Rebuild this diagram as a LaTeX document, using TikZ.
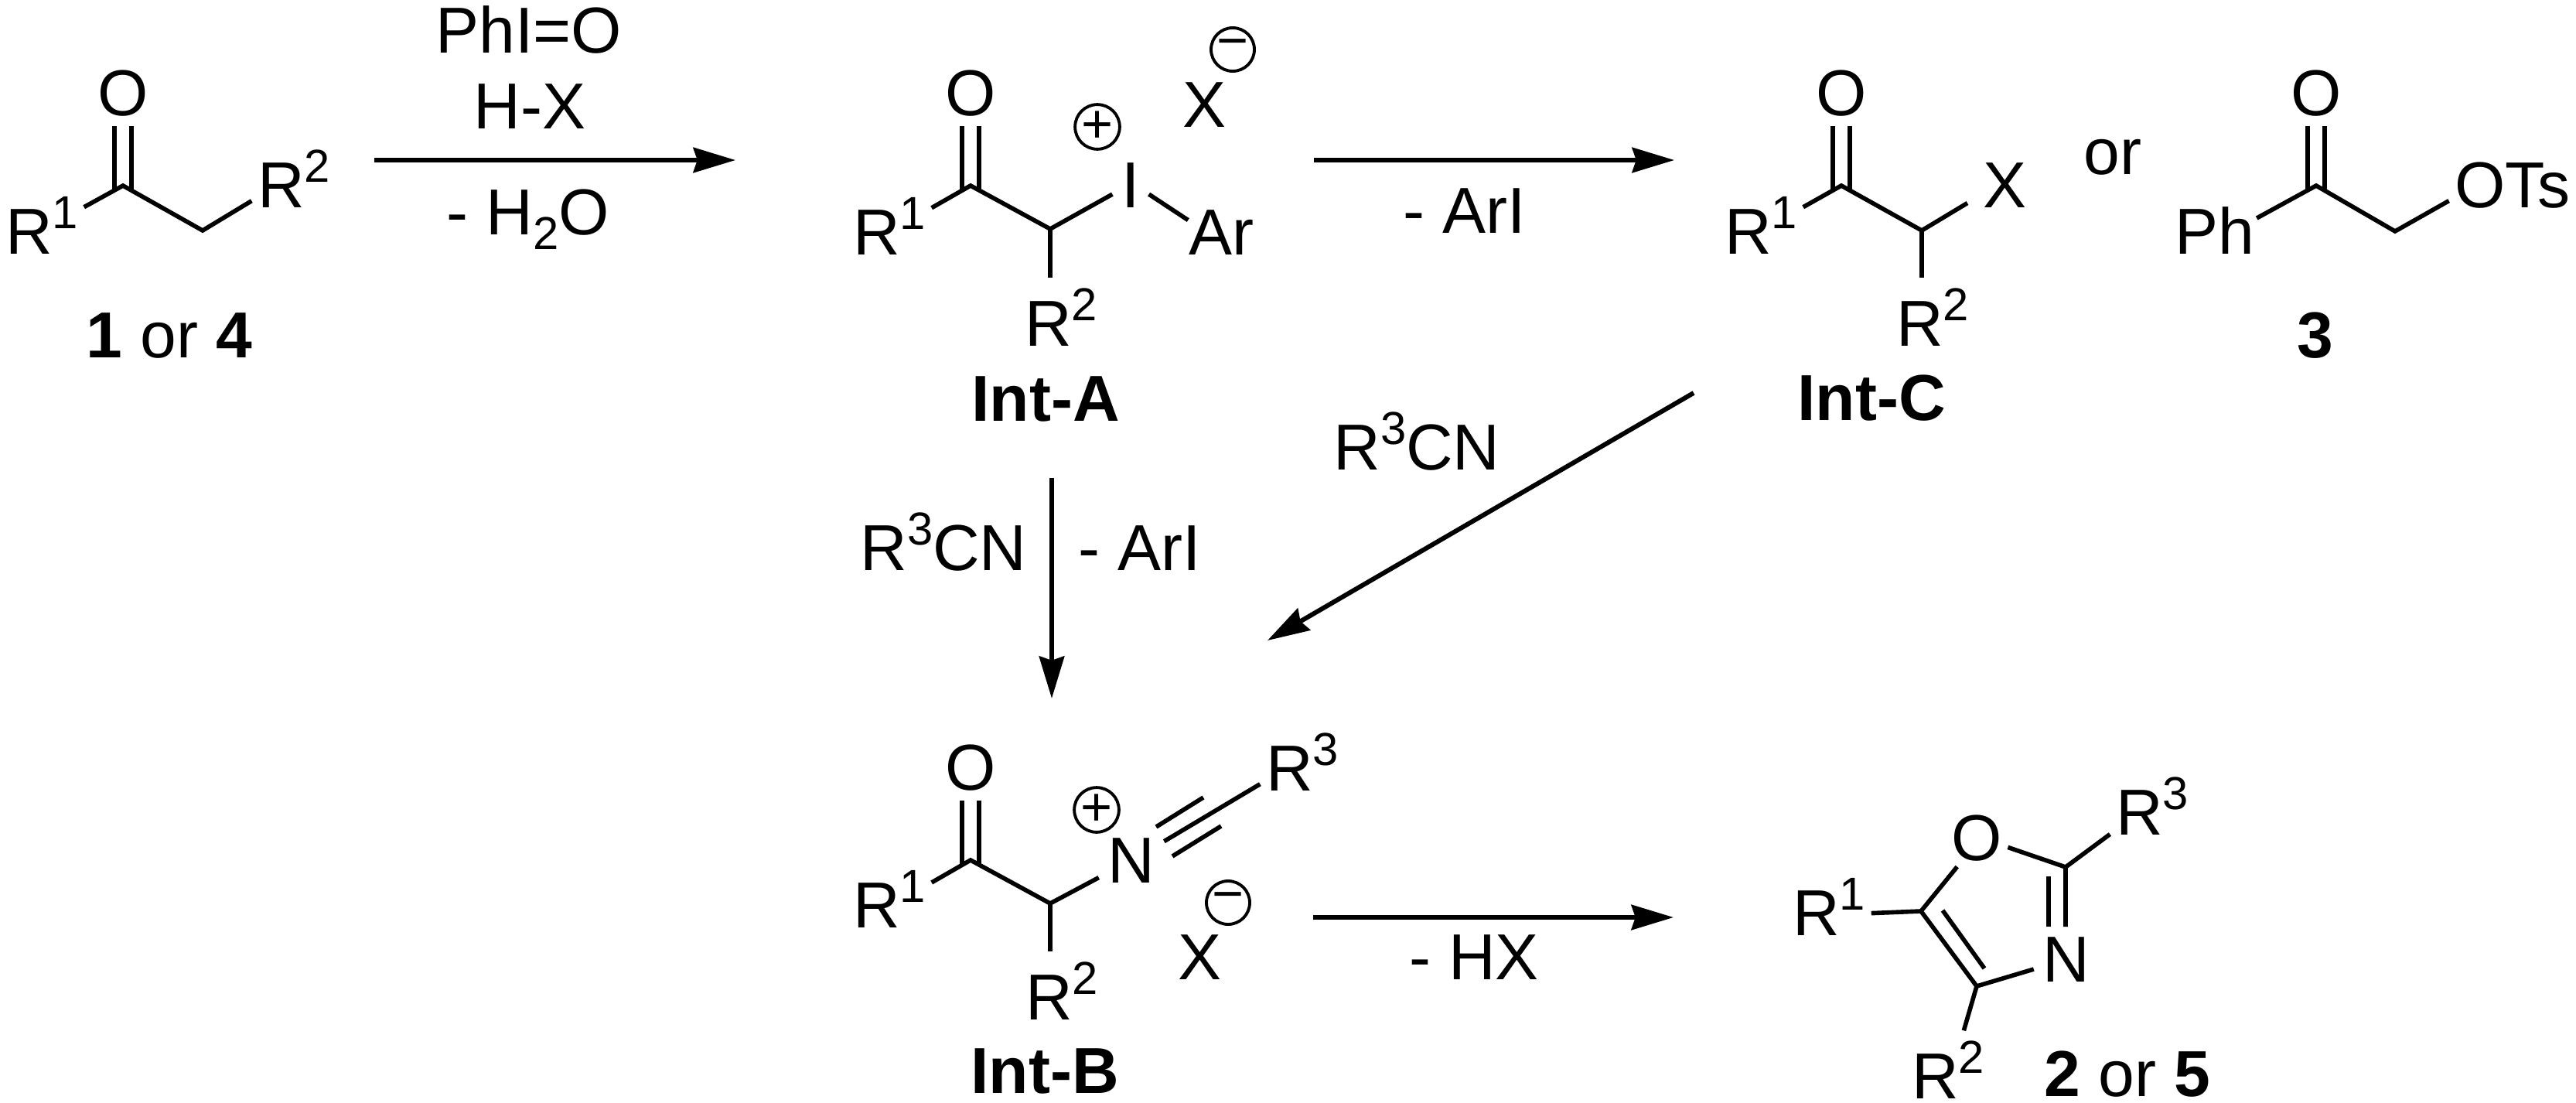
\documentclass[tikz,border=0pt]{standalone}
\usepackage{fontspec}
\setmainfont{Liberation Sans}
\usetikzlibrary{arrows.meta,positioning,calc}
\newcommand{\supn}[1]{\raisebox{.33cm}{\fontsize{17}{20}\selectfont #1}}
\newcommand{\subn}[1]{\raisebox{-.19cm}{\fontsize{17}{20}\selectfont #1}}

\begin{document}
\begin{tikzpicture}
[atom/.style={anchor=base,font=\fontsize{23.9}{28}\selectfont,inner xsep=2pt,inner ysep=3.5pt},
cmpd/.style={atom,font=\fontsize{23.9}{28}\selectfont\bfseries},
chg/.style={shape=circle,draw=black,line width=1.1pt,inner sep=0pt,minimum size=.56cm,font=\fontsize{20}{24}\selectfont},
bond/.style={line width=1.6pt,line join=miter},
rxn/.style={line width=1.7pt,-{Stealth[length=15.5pt,width=9.2pt,inset=1.5pt]}}]
\useasboundingbox (0,0) rectangle (33.31,-14.26);
%% ketone
\node (o1) [atom] at (1.59,-1.49) {O};
\node (r11) [atom] at (.54,-3.28) {R\supn{1}};
\node (r21) [atom] at (3.80,-2.68) {R\supn{2}};
\coordinate (c1) at (1.59,-2.40);
\coordinate (c2) at (2.62,-2.98);
\draw[bond] (r11.23) -- (c1) -- (c2) -- (r21.208);
\draw[bond] ([shift={(-.11,-.05)}]c1) -- ([xshift=-.11cm]o1.south);
\draw[bond] ([shift={(.11,-.05)}]c1) -- ([xshift=.11cm]o1.south);
\node (n14) [atom] at (2.19,-4.62) {{\bfseries 1} or {\bfseries 4}};
%% first arrow
\node (phio) [atom] at (6.84,-.69) {PhI=O};
\node (hx) [atom] at (6.85,-1.66) {H-X};
\node (wat) [atom] at (6.83,-3.03) {- H\subn{2}O};
\coordinate (s1) at (4.84,-2.07);
\coordinate (e1) at (9.51,-2.07);
\draw[rxn] (s1) -- (e1);
%% Int-A
\node (oa) [atom] at (12.55,-1.49) {O};
\node (r1a) [atom] at (11.50,-3.29) {R\supn{1}};
\node (r2a) [atom] at (13.72,-4.47) {R\supn{2}};
\node (ia) [atom,inner xsep=3.2pt] at (14.62,-2.68) {I};
\node (ara) [atom,inner xsep=0pt] at (15.79,-3.29) {Ar};
\node (xa) [atom] at (15.57,-1.64) {X};
\node (pa) [chg] at (14.19,-1.64) {+};
\node (ma) [chg] at (15.94,-.64) {−};
\coordinate (ca1) at (12.55,-2.40);
\coordinate (ca2) at (13.58,-2.96);
\draw[bond] (r1a.23) -- (ca1) -- (ca2) -- (ia.207);
\draw[bond] (ca2) -- (ca2 |- r2a.north);
\draw[bond] (ia.-27) -- (ara.160);
\draw[bond] ([shift={(-.11,-.05)}]ca1) -- ([xshift=-.11cm]oa.south);
\draw[bond] ([shift={(.11,-.05)}]ca1) -- ([xshift=.11cm]oa.south);
\node (inta) [cmpd] at (13.52,-5.44) {Int-A};
%% A to C
\node (ari1) [atom] at (18.94,-3.01) {- ArI};
\coordinate (s2) at (16.99,-2.07);
\coordinate (e2) at (21.65,-2.07);
\draw[rxn] (s2) -- (e2);
%% Int-C
\node (oc) [atom] at (23.81,-1.49) {O};
\node (r1c) [atom] at (22.77,-3.28) {R\supn{1}};
\node (r2c) [atom] at (24.99,-4.47) {R\supn{2}};
\node (xc) [atom,inner xsep=5.5pt] at (25.92,-2.68) {X};
\coordinate (cc1) at (23.81,-2.40);
\coordinate (cc2) at (24.85,-2.98);
\draw[bond] (r1c.23) -- (cc1) -- (cc2) -- (xc.206);
\draw[bond] (cc2) -- (cc2 |- r2c.north);
\draw[bond] ([shift={(-.11,-.05)}]cc1) -- ([xshift=-.11cm]oc.south);
\draw[bond] ([shift={(.11,-.05)}]cc1) -- ([xshift=.11cm]oc.south);
\node (intc) [cmpd] at (24.20,-5.43) {Int-C};
\node (orc) [atom] at (27.32,-2.25) {or};
%% compound 3
\node (o3) [atom] at (29.95,-1.49) {O};
\node (ph3) [atom,inner xsep=.6pt] at (28.64,-3.28) {Ph};
\node (ots3) [atom] at (32.49,-2.68) {OTs};
\coordinate (c31) at (29.95,-2.40);
\coordinate (c32) at (30.97,-2.99);
\draw[bond] (ph3.16) -- (c31) -- (c32) -- (ots3.194);
\draw[bond] ([shift={(-.11,-.05)}]c31) -- ([xshift=-.11cm]o3.south);
\draw[bond] ([shift={(.11,-.05)}]c31) -- ([xshift=.11cm]o3.south);
\node (n3) [cmpd] at (29.94,-4.62) {3};
%% arrows to Int-B
\node (cn1) [atom] at (18.32,-6.07) {R\supn{3}CN};
\node (cn2) [atom] at (12.20,-7.37) {R\supn{3}CN};
\node (ari2) [atom] at (14.74,-7.37) {- ArI};
\coordinate (s3) at (13.60,-6.18);
\coordinate (e3) at (13.60,-9.03);
\draw[rxn] (s3) -- (e3);
\coordinate (s4) at (21.90,-5.08);
\coordinate (e4) at (16.39,-8.28);
\draw[rxn] (s4) -- (e4);
%% Int-B
\node (ob) [atom] at (12.55,-10.21) {O};
\node (r1b) [atom] at (11.50,-11.99) {R\supn{1}};
\node (r2b) [atom] at (13.73,-13.18) {R\supn{2}};
\node (nb) [atom,inner xsep=3.2pt] at (14.63,-11.41) {N};
\node (r3b) [atom] at (16.84,-10.22) {R\supn{3}};
\node (xb) [atom] at (15.51,-12.66) {X};
\node (pb) [chg] at (14.18,-10.47) {+};
\node (mb) [chg] at (15.88,-11.67) {−};
\coordinate (cb1) at (12.55,-11.12);
\coordinate (cb2) at (13.58,-11.68);
\draw[bond] (r1b.21) -- (cb1) -- (cb2) -- (nb.208);
\draw[bond] (cb2) -- (cb2 |- r2b.north);
\draw[bond] (nb.30) -- (r3b.208);
\coordinate (tb1) at (14.95,-10.69);
\coordinate (tb2) at (15.56,-10.31);
\coordinate (tb3) at (15.16,-11.07);
\coordinate (tb4) at (15.79,-10.68);
\draw[bond] (tb1) -- (tb2);
\draw[bond] (tb3) -- (tb4);
\draw[bond] ([shift={(-.11,-.05)}]cb1) -- ([xshift=-.11cm]ob.south);
\draw[bond] ([shift={(.11,-.05)}]cb1) -- ([xshift=.11cm]ob.south);
\node (intb) [cmpd] at (13.51,-14.13) {Int-B};
%% last arrow
\node (hx2) [atom] at (19.06,-12.66) {- HX};
\coordinate (s5) at (16.98,-11.86);
\coordinate (e5) at (21.64,-11.86);
\draw[rxn] (s5) -- (e5);
%% oxazole
\node (ox) [atom,inner ysep=2pt] at (25.56,-11.12) {O};
\node (nx) [atom,inner xsep=3.2pt] at (26.72,-12.69) {N};
\node (r1x) [atom] at (23.65,-12.09) {R\supn{1}};
\node (r2x) [atom] at (25.19,-14.20) {R\supn{2}};
\node (r3x) [atom] at (27.83,-10.79) {R\supn{3}};
\coordinate (cx5) at (24.84,-11.78);
\coordinate (cx4) at (25.56,-12.75);
\coordinate (cx2) at (26.71,-11.21);
\draw[bond] (ox.236) -- (cx5) -- (cx4) -- (nx.197);
\draw[bond] (ox.-17) -- (cx2) -- (cx2 |- nx.north);
\draw[bond] (cx2) -- (r3x.214);
\draw[bond] (cx5) -- (r1x.-9);
\draw[bond] (cx4) -- (r2x.68);
\coordinate (dx1) at (25.12,-11.77);
\coordinate (dx2) at (25.66,-12.52);
\draw[bond] (dx1) -- (dx2);
\coordinate (dx3) at (26.49,-11.33);
\draw[bond] (dx3) -- (dx3 |- nx.north);
\node (n25) [atom] at (27.51,-14.17) {{\bfseries 2} or {\bfseries 5}};
\end{tikzpicture}
\end{document}
